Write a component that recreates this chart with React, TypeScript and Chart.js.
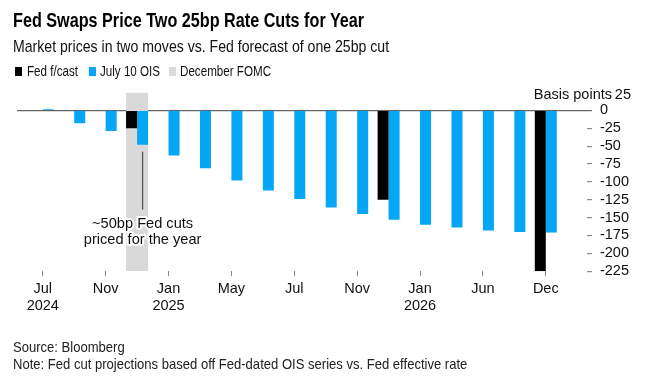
import React, { useEffect, useRef } from "react";
import { Chart, registerables } from "chart.js";

Chart.register(...registerables);

// ---- Data ----
const meetings = [
  "Jul 2024", "Sep 2024", "Nov 2024", "Dec 2024", "Jan 2025", "Mar 2025",
  "May 2025", "Jun 2025", "Jul 2025", "Sep 2025", "Nov 2025", "Dec 2025",
  "Jan 2026", "Mar 2026", "Jun 2026", "Sep 2026", "Dec 2026",
];
const oisJuly10 = [
  2, -18, -29, -48, -63, -81, -98, -112, -124, -136, -145, -153, -160, -164, -168, -170, -171,
];
const fedForecast: (number | null)[] = [
  null, null, null, -25, null, null, null, null, null, null, null, -125,
  null, null, null, null, -225,
];
const decemberFomcMeetings = ["Dec 2024"];
const xTickIndexes = [0, 2, 4, 6, 8, 10, 12, 14, 16];
const xTickLabels: (string | string[])[] = [
  ["Jul", "2024"], "Nov", ["Jan", "2025"], "May", "Jul", "Nov", ["Jan", "2026"], "Jun", "Dec",
];
const yTicks = [25, 0, -25, -50, -75, -100, -125, -150, -175, -200, -225];
const yMin = -225;
const yMax = 25;
const xMin = -0.82;
const xMax = 17.31;
const annotationMeeting = "Dec 2024";
const annotationLines = ["~50bp Fed cuts", "priced for the year"];
const yUnit = "Basis points";

const FONT = "'Liberation Sans', Arial, Helvetica, sans-serif";
const BLUE = "#04a6f5";
const BLACK = "#000000";
const GRAY = "#d9d9d9";

const overlayPlugin = {
  id: "overlay",
  afterDatasetsDraw(chart: any) {
    const { ctx, scales } = chart;
    const y = scales.y;
    const idx = meetings.indexOf(annotationMeeting);
    const bar = chart.getDatasetMeta(1).data[idx];
    if (bar) {
      const cx = bar.x;
      const top = bar.y + 7;
      ctx.save();
      ctx.strokeStyle = "#555";
      ctx.lineWidth = 1.3;
      ctx.beginPath();
      ctx.moveTo(cx, top);
      ctx.lineTo(cx, top + 58);
      ctx.stroke();
      ctx.font = `14.6px ${FONT}`;
      ctx.textAlign = "center";
      ctx.textBaseline = "middle";
      ctx.lineJoin = "round";
      annotationLines.forEach((t, i) => {
        const ty = top + 72 + i * 16;
        ctx.strokeStyle = "#ffffff";
        ctx.lineWidth = 4;
        ctx.strokeText(t, cx, ty);
        ctx.fillStyle = "#111";
        ctx.fillText(t, cx, ty);
      });
      ctx.restore();
    }
    // unit label with top tick
    const ty = y.getPixelForValue(yMax) + 2.5;
    ctx.save();
    ctx.font = `14.5px ${FONT}`;
    ctx.fillStyle = "#111";
    ctx.textAlign = "right";
    ctx.textBaseline = "middle";
    ctx.fillText(String(yMax), 631, ty);
    ctx.fillText(yUnit, 612, ty);
    ctx.restore();
  },
};

function ChartCanvas() {
  const ref = useRef<HTMLCanvasElement | null>(null);
  useEffect(() => {
    if (!ref.current) return;
    Chart.defaults.font.family = FONT;
    const chart = new Chart(ref.current, {
      type: "bar",
      data: {
        datasets: [
          {
            label: "Fed f/cast",
            data: meetings.map((m, i) => ({ x: i, y: fedForecast[i] })) as any,
            backgroundColor: BLACK,
            borderWidth: 0,
            categoryPercentage: 0.7,
            barPercentage: 1,
            order: 1,
          },
          {
            label: "July 10 OIS",
            data: meetings.map((m, i) => ({ x: i, y: oisJuly10[i] })) as any,
            backgroundColor: BLUE,
            borderWidth: 0,
            categoryPercentage: 0.7,
            barPercentage: 1,
            order: 1,
          },
          {
            label: "December FOMC",
            data: meetings.map((m, i) => ({
              x: i,
              y: decemberFomcMeetings.includes(m) ? [yMin, yMax] : null,
            })) as any,
            backgroundColor: GRAY,
            borderWidth: 0,
            categoryPercentage: 0.7,
            barPercentage: 1,
            grouped: false,
            order: 5,
          } as any,
        ],
      },
      options: {
        responsive: false,
        animation: false,
        devicePixelRatio: 1,
        maintainAspectRatio: false,
        layout: { padding: { left: 17, top: 92.5, right: 20, bottom: 66 } },
        plugins: { legend: { display: false }, tooltip: { enabled: false }, title: { display: false } },
        scales: {
          x: {
            type: "linear",
            min: xMin,
            max: xMax,
            offset: false,
            border: { display: false },
            grid: {
              offset: false,
              drawOnChartArea: false,
              drawTicks: true,
              tickLength: 5,
              tickColor: "#8c8c8c",
              lineWidth: 1,
            },
            afterBuildTicks: (s: any) => {
              s.ticks = xTickIndexes.map((v) => ({ value: v }));
            },
            ticks: {
              autoSkip: false,
              maxRotation: 0,
              minRotation: 0,
              padding: 4,
              color: "#111",
              font: { size: 14.5, family: FONT },
              callback: (v: any) => {
                const k = xTickIndexes.indexOf(Number(v));
                return k >= 0 ? xTickLabels[k] : "";
              },
            },
          },
          y: {
            type: "linear",
            position: "right",
            min: yMin,
            max: yMax,
            border: { display: false },
            grid: {
              drawOnChartArea: true,
              drawTicks: true,
              tickLength: 5,
              lineWidth: 1.2,
              color: (c: any) => (c.tick && c.tick.value === 0 ? "#666" : "rgba(0,0,0,0)"),
              tickColor: (c: any) =>
                c.tick && c.tick.value === yMax ? "rgba(0,0,0,0)" : c.tick && c.tick.value === 0 ? "#666" : "#8c8c8c",
            },
            afterBuildTicks: (s: any) => {
              s.ticks = yTicks.map((v) => ({ value: v }));
            },
            ticks: {
              autoSkip: false,
              padding: 8,
              color: "#111",
              font: { size: 14.5, family: FONT },
              callback: (v: any) => (Number(v) === yMax ? "" : String(v)),
            },
          },
        },
      } as any,
      plugins: [overlayPlugin],
    });
    return () => chart.destroy();
  }, []);
  return (
    <canvas
      ref={ref}
      width={657}
      height={385}
      style={{ position: "absolute", left: 0, top: 0, width: 657, height: 385, display: "block" }}
    />
  );
}

const textBase: React.CSSProperties = {
  position: "absolute",
  whiteSpace: "nowrap",
  fontFamily: FONT,
  transformOrigin: "0 0",
  lineHeight: 1,
  margin: 0,
};

function LegendItem({ x, tx, color, label }: { x: number; tx: number; color: string; label: string }) {
  return (
    <>
      <div style={{ position: "absolute", left: x, top: 67, width: 7, height: 8.5, background: color }} />
      <div style={{ ...textBase, left: tx, top: 64.2, fontSize: 14, color: "#111", transform: "scaleX(0.83)" }}>
        {label}
      </div>
    </>
  );
}

export default function App() {
  return (
    <div style={{ position: "fixed", left: 0, top: 0, width: 657, height: 385, background: "#fff", overflow: "hidden" }}>
      <ChartCanvas />
      <div style={{ ...textBase, left: 13, top: 10.8, fontSize: 19.5, fontWeight: 700, color: "#000", transform: "scaleX(0.83)" }}>
        Fed Swaps Price Two 25bp Rate Cuts for Year
      </div>
      <div style={{ ...textBase, left: 13, top: 38.5, fontSize: 16.8, color: "#111", transform: "scaleX(0.84)" }}>
        Market prices in two moves vs. Fed forecast of one 25bp cut
      </div>
      <LegendItem x={15} tx={26.5} color={BLACK} label="Fed f/cast" />
      <LegendItem x={89} tx={100} color={BLUE} label="July 10 OIS" />
      <LegendItem x={169} tx={180} color={GRAY} label="December FOMC" />
      <div style={{ ...textBase, left: 13, top: 340, fontSize: 14.5, color: "#222", transform: "scaleX(0.9)" }}>
        Source: Bloomberg
      </div>
      <div style={{ ...textBase, left: 13, top: 357, fontSize: 14.5, color: "#222", transform: "scaleX(0.9)" }}>
        Note: Fed cut projections based off Fed-dated OIS series vs. Fed effective rate
      </div>
    </div>
  );
}
